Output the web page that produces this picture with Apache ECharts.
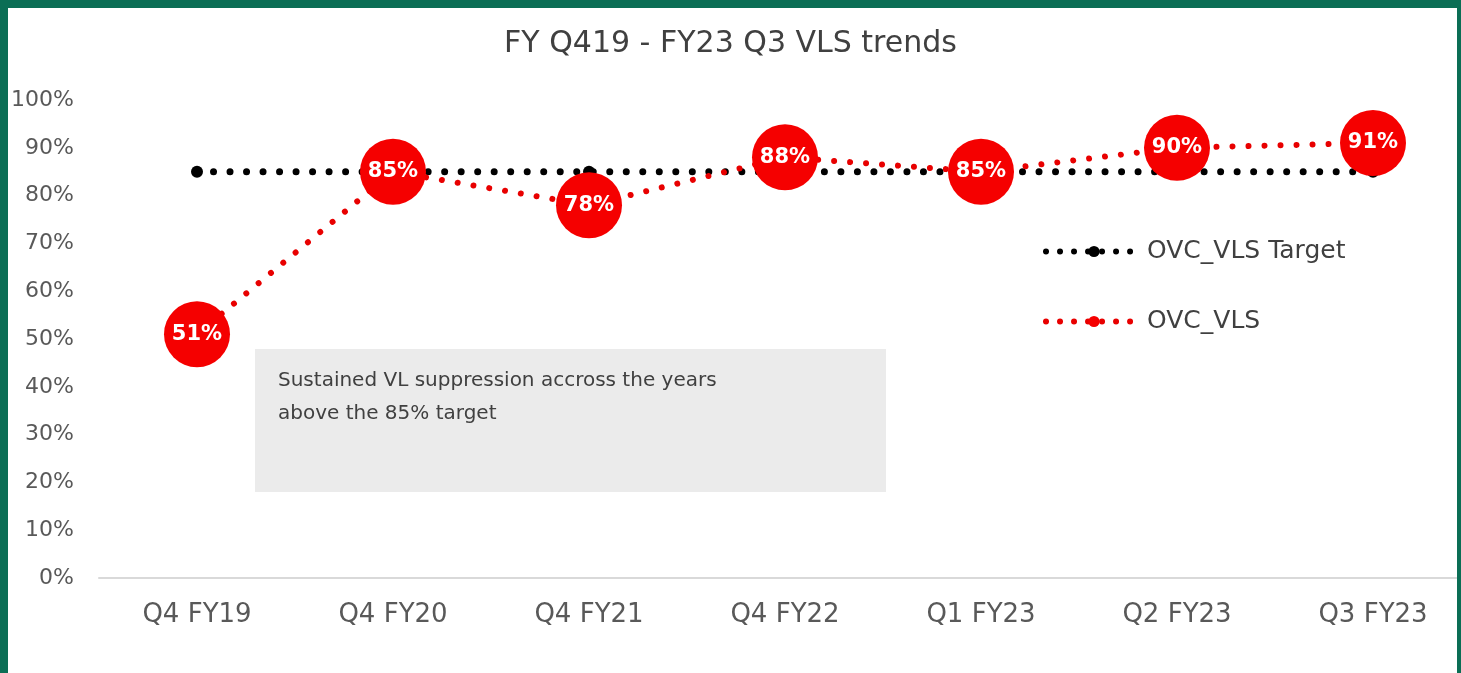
<!DOCTYPE html>
<html>
<head>
<meta charset="utf-8">
<script src="https://cdn.jsdelivr.net/npm/echarts@6/dist/echarts.min.js"></script>
<style>
  html, body { margin: 0; padding: 0; background: #fff; }
  #main { width: 1461px; height: 673px; }
</style>
</head>
<body>
<div id="main"></div>
<script>
var myChart = echarts.init(document.getElementById('main'));

// categories and values
var quarters = ['Q4 FY19', 'Q4 FY20', 'Q4 FY21', 'Q4 FY22', 'Q1 FY23', 'Q2 FY23', 'Q3 FY23'];
var targetVls = [85, 85, 85, 85, 85, 85, 85];
var ovcVls = [51, 85, 78, 88, 85, 90, 91];

var FONT = 'DejaVu Sans';
var GREEN = '#0b6e55';

option = {
    backgroundColor: '#fff',
    title: {
        text: 'FY Q419 - FY23 Q3 VLS trends',
        left: 'center',
        top: 24,
        textStyle: {
            fontFamily: FONT,
            fontSize: 30,
            fontWeight: 'normal',
            color: '#404040'
        }
    },
    legend: {
        orient: 'vertical',
        left: 1038,
        top: 234,
        itemWidth: 96,
        itemHeight: 14,
        itemGap: 45,
        data: [
            {
                name: 'OVC_VLS Target',
                lineStyle: { width: 6, type: [0.01, 14], cap: 'round', color: '#000' }
            },
            {
                name: 'OVC_VLS',
                lineStyle: { width: 6, type: [0.01, 14], cap: 'round', color: '#e80000' }
            }
        ],
        textStyle: {
            fontFamily: FONT,
            fontSize: 25,
            color: '#404040'
        }
    },
    grid: {
        left: 99,
        top: 100,
        width: 1372,
        height: 478,
        outerBoundsMode: 'none'
    },
    xAxis: {
        type: 'category',
        data: quarters,
        axisLine: { lineStyle: { color: '#d9d9d9', width: 2 } },
        axisTick: { show: false },
        axisLabel: {
            fontFamily: FONT,
            fontSize: 26,
            color: '#595959',
            margin: 24
        }
    },
    yAxis: {
        type: 'value',
        min: 0,
        max: 100,
        interval: 10,
        splitLine: { show: false },
        axisLine: { show: false },
        axisTick: { show: false },
        axisLabel: {
            formatter: '{value}%',
            fontFamily: FONT,
            fontSize: 22,
            color: '#595959',
            margin: 25
        }
    },
    series: [
        {
            name: 'OVC_VLS Target',
            type: 'line',
            data: targetVls,
            symbol: 'circle',
            symbolSize: 12,
            itemStyle: { color: '#000' },
            lineStyle: {
                color: '#000',
                width: 7,
                type: [0.01, 16.5],
                cap: 'round'
            },
            z: 2
        },
        {
            name: 'OVC_VLS',
            type: 'line',
            data: ovcVls,
            symbol: 'circle',
            symbolSize: 66,
            itemStyle: { color: '#f50000' },
            lineStyle: {
                color: '#e80000',
                width: 6,
                type: [0.01, 16],
                cap: 'round'
            },
            label: {
                show: true,
                position: 'inside',
                formatter: '{c}%',
                fontFamily: FONT,
                fontSize: 21,
                fontWeight: 'bold',
                color: '#fff'
            },
            z: 3
        }
    ],
    graphic: [
        // note box
        {
            type: 'rect',
            left: 255,
            top: 349,
            shape: { width: 631, height: 143 },
            style: { fill: '#ebebeb' },
            z: 1
        },
        {
            type: 'text',
            left: 278,
            top: 364,
            style: {
                text: 'Sustained VL suppression accross the years\nabove the 85% target',
                font: '20px "DejaVu Sans"',
                lineHeight: 33,
                fill: '#404040'
            },
            z: 1
        },
        // green frame
        {
            type: 'rect',
            left: 0, top: 0,
            shape: { width: 1461, height: 8 },
            style: { fill: GREEN },
            z: 100
        },
        {
            type: 'rect',
            left: 0, top: 0,
            shape: { width: 8, height: 673 },
            style: { fill: GREEN },
            z: 100
        },
        {
            type: 'rect',
            left: 1457, top: 0,
            shape: { width: 4, height: 673 },
            style: { fill: GREEN },
            z: 100
        }
    ]
};

myChart.setOption(option);
</script>
</body>
</html>
